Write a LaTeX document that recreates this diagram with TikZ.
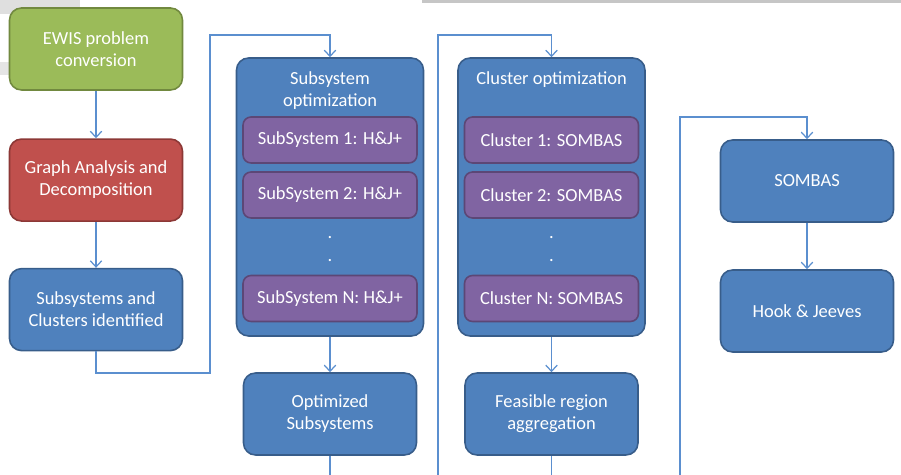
\documentclass[tikz,border=0pt]{standalone}
\usepackage{fontspec}
\setmainfont{Carlito}
\usetikzlibrary{arrows.meta,positioning}

\definecolor{stepblue}{HTML}{4F81BD}
\definecolor{stepblueline}{HTML}{385D8A}
\definecolor{stepgreen}{HTML}{9BBB59}
\definecolor{stepgreenline}{HTML}{71893F}
\definecolor{stepred}{HTML}{C0504D}
\definecolor{stepredline}{HTML}{8C3836}
\definecolor{steppurple}{HTML}{8064A2}
\definecolor{steppurpleline}{HTML}{5C4776}
\definecolor{linkblue}{HTML}{5B8FCF}

\begin{document}
\begin{tikzpicture}[x=0.02cm,y=-0.02cm]
            \tikzstyle{every node} = [align=center, text=white, font=\fontsize{10.5}{12.5}\selectfont]
            \tikzstyle{stepbox} = [draw=stepblueline, fill=stepblue, line width=0.9pt, rounded corners=0.24cm, minimum width=3.46cm, minimum height=1.64cm, node distance=0.95cm]
            \tikzstyle{groupbox} = [stepbox, minimum width=3.74cm, minimum height=5.56cm]
            \tikzstyle{taskbox} = [draw=steppurpleline, fill=steppurple, line width=0.9pt, rounded corners=0.16cm, minimum width=3.48cm, minimum height=0.92cm]
            \tikzstyle{link} = [draw=linkblue, line width=0.7pt, -{Straight Barb[length=3.5pt,width=6.5pt]}]

            \useasboundingbox (0,0) rectangle (901,475);
            \clip (0,0) rectangle (901,475);

            % left-over window bits of the screenshot
            \fill[gray!25] (0,0) rectangle (80,14);
            \fill[gray!20] (0,62) rectangle (14,75);
            \fill[gray!45] (422,0) rectangle (901,3);

            % first column
            \node[stepbox, fill=stepgreen, draw=stepgreenline](ewis) at (96,49){EWIS problem\\conversion};
            \node[stepbox, fill=stepred, draw=stepredline, below=of ewis](graph){Graph Analysis and\\Decomposition};
            \node[stepbox, below=0.92cm of graph](ident){Subsystems and\\Clusters identified};

            % subsystem column
            \node[groupbox](subopt) at (330,197){};
            \node(subtitle) at (330,91){Subsystem\\optimization};
            \node[taskbox](ss1) at (330,140){SubSystem 1: H\&J+};
            \node[taskbox](ss2) at (330,195){SubSystem 2: H\&J+};
            \node(ssdota) at (330,238){.};
            \node(ssdotb) at (330,261){.};
            \node[taskbox](ssN) at (330,298.5){SubSystem N: H\&J+};
            \node[stepbox](optsub) at (330,414){Optimized\\Subsystems};

            % cluster column
            \node[groupbox](clopt) at (551.5,197){};
            \node(cltitle) at (551.5,80){Cluster optimization};
            \node[taskbox](cl1) at (551.5,140){Cluster 1: SOMBAS};
            \node[taskbox](cl2) at (551.5,195){Cluster 2: SOMBAS};
            \node(cldota) at (551.5,238){.};
            \node(cldotb) at (551.5,261){.};
            \node[taskbox](clN) at (551.5,298.5){Cluster N: SOMBAS};
            \node[stepbox](feas) at (551.5,414){Feasible region\\aggregation};

            % last column
            \node[stepbox](sombas) at (807,181){SOMBAS};
            \node[stepbox](hook) at (807,311){Hook \& Jeeves};

            \path[link] (ewis) -- (graph);
            \path[link] (graph) -- (ident);
            \path[link] (ident.south) |- (210,373) -- (210,35) -| (subopt.north);
            \path[link] (subopt) -- (optsub);
            \path[link] (optsub.south) -- (330,490) -| (438,35) -| (clopt.north);
            \path[link] (clopt) -- (feas);
            \path[link] (feas.south) -- (551.5,490) -| (680,117) -| (sombas.north);
            \path[link] (sombas) -- (hook);
\end{tikzpicture}
\end{document}
